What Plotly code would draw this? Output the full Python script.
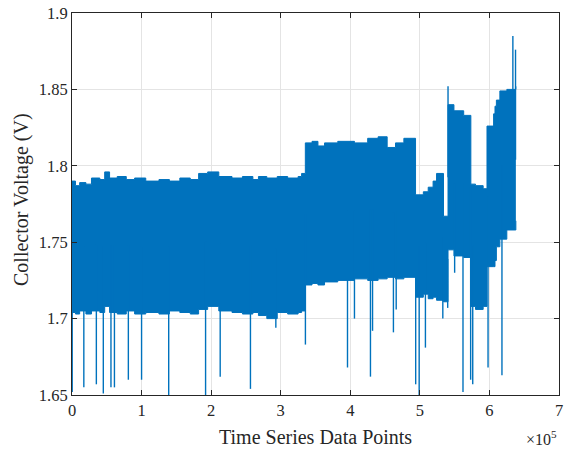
import numpy as np
import plotly.graph_objects as go

# ---------------- data (x in units of 1e5 samples) ----------------
env_x = [0.00, 0.05, 0.11, 0.20, 0.28, 0.40, 0.47, 0.54, 0.65, 0.78, 0.90, 1.06, 1.25, 1.40,
         1.55, 1.70, 1.82, 1.95, 2.11, 2.30, 2.45, 2.60, 2.68, 2.80, 2.95, 3.10, 3.25, 3.30,
         3.354, 3.45, 3.535, 3.63, 3.82, 4.06, 4.25, 4.40, 4.53, 4.65, 4.77,
         4.938, 5.05, 5.12, 5.19, 5.24, 5.34, 5.405, 5.49, 5.63, 5.733, 5.80, 5.91,
         5.965, 6.06, 6.08, 6.10, 6.15, 6.25, 6.38]
env_upper = [1.790, 1.787, 1.789, 1.788, 1.792, 1.791, 1.796, 1.792, 1.793, 1.791, 1.792, 1.790, 1.791, 1.790,
             1.792, 1.791, 1.795, 1.796, 1.793, 1.792, 1.793, 1.791, 1.793, 1.792, 1.793, 1.792, 1.793, 1.795,
             1.815, 1.816, 1.813, 1.815, 1.816, 1.815, 1.818, 1.819, 1.812, 1.815, 1.818,
             1.781, 1.783, 1.786, 1.790, 1.795, 1.767, 1.840, 1.836, 1.833, 1.788, 1.787, 1.785,
             1.826, 1.834, 1.839, 1.843, 1.849, 1.850, 1.852]
env_lower = [1.704, 1.703, 1.705, 1.703, 1.705, 1.704, 1.708, 1.704, 1.703, 1.705, 1.703, 1.704, 1.703, 1.705,
             1.704, 1.703, 1.706, 1.708, 1.705, 1.704, 1.703, 1.704, 1.702, 1.700, 1.704, 1.703, 1.704, 1.705,
             1.722, 1.723, 1.722, 1.724, 1.725, 1.726, 1.725, 1.726, 1.727, 1.726, 1.727,
             1.714, 1.716, 1.713, 1.714, 1.712, 1.711, 1.745, 1.741, 1.740, 1.708, 1.706, 1.708,
             1.734, 1.734, 1.738, 1.747, 1.752, 1.758, 1.764]

spike_x = [0.003, 0.17, 0.35, 0.45, 0.56, 0.61, 0.81, 1.00, 1.39, 1.92, 2.13, 2.565, 2.93, 3.355,
           3.96, 4.06, 4.29, 4.32, 4.62, 4.66, 4.94, 4.99, 5.08, 5.33, 5.40, 5.50, 5.62, 5.73,
           5.76, 5.98, 6.18, 5.405, 6.337, 6.375]
spike_val = [1.652, 1.655, 1.657, 1.651, 1.655, 1.655, 1.660, 1.660, 1.648, 1.648, 1.662, 1.654, 1.694, 1.683,
             1.668, 1.700, 1.662, 1.692, 1.691, 1.706, 1.657, 1.648, 1.681, 1.700, 1.707, 1.730, 1.652, 1.660,
             1.657, 1.668, 1.663, 1.852, 1.885, 1.876]

x_ticks = [0, 1, 2, 3, 4, 5, 6, 7]
y_ticks = [1.65, 1.7, 1.75, 1.8, 1.85, 1.9]
y_ticklabels = ["1.65", "1.7", "1.75", "1.8", "1.85", "1.9"]

SCALE = 1e5
BLUE = "#0072BD"
AX = "#262626"
FONT = "Liberation Serif, Times New Roman, serif"

ex = np.array(env_x) * SCALE
up = np.array(env_upper)
lo = np.array(env_lower)

# spike segments: from band middle to spike value
sx, sy = [], []
for xv, v in zip(spike_x, spike_val):
    i = max(0, np.searchsorted(env_x, xv, side="right") - 1)
    mid = (up[i] + lo[i]) / 2
    sx += [xv * SCALE, xv * SCALE, None]
    sy += [mid, v, None]

fig = go.Figure()
fig.add_trace(go.Scatter(x=ex, y=lo, mode="lines", line=dict(color=BLUE, width=1, shape="hv"),
                         showlegend=False, hoverinfo="skip"))
fig.add_trace(go.Scatter(x=ex, y=up, mode="lines", line=dict(color=BLUE, width=1, shape="hv"),
                         fill="tonexty", fillcolor=BLUE, showlegend=False, hoverinfo="skip"))
fig.add_trace(go.Scatter(x=sx, y=sy, mode="lines", line=dict(color=BLUE, width=1.4),
                         showlegend=False, hoverinfo="skip"))

axis_common = dict(showline=True, linecolor=AX, linewidth=1, mirror="ticks", ticks="inside",
                   ticklen=5, tickcolor=AX, showgrid=True, gridcolor="#e4e4e4", gridwidth=1,
                   zeroline=False, ticklabeloverflow="allow",
                   tickfont=dict(family=FONT, size=16.5, color=AX))

fig.update_xaxes(range=[0, 7 * SCALE], tickvals=[t * SCALE for t in x_ticks],
                 ticktext=[str(t) for t in x_ticks], **axis_common)
fig.update_yaxes(range=[1.65, 1.9], tickvals=y_ticks, ticktext=y_ticklabels, **axis_common)

# axis titles
fig.add_annotation(x=0.5, y=0, xref="paper", yref="paper", xanchor="center", yanchor="middle",
                   yshift=-42, text="Time Series Data Points", showarrow=False,
                   font=dict(family=FONT, size=20, color=AX))
fig.add_annotation(x=0, y=0.5, xref="paper", yref="paper", xanchor="center", yanchor="middle",
                   xshift=-51, yshift=4, textangle=-90, text="Collector Voltage (V)", showarrow=False,
                   font=dict(family=FONT, size=20, color=AX))
# exponent label
fig.add_annotation(x=1.0, y=0, xref="paper", yref="paper", xanchor="right", yanchor="bottom",
                   yshift=-55, xshift=0, text="×10<sup>5</sup>", showarrow=False,
                   font=dict(family=FONT, size=16, color=AX))

fig.update_layout(width=566, height=451, margin=dict(l=72, r=3, t=13, b=56),
                  paper_bgcolor="white", plot_bgcolor="white")

fig.write_html("out.html")
